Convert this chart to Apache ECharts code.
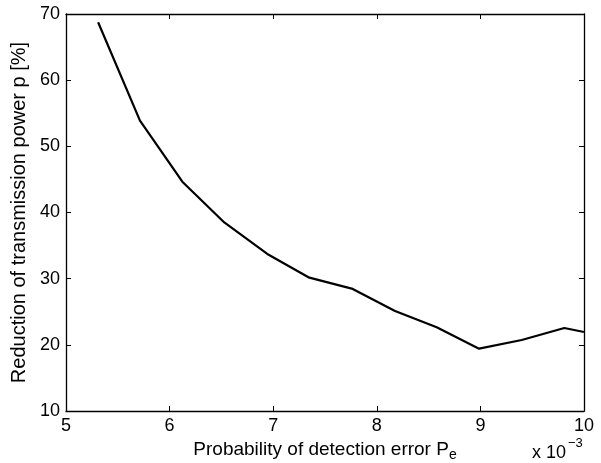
<!DOCTYPE html>
<html><head><meta charset="utf-8">
<script src="https://cdn.jsdelivr.net/npm/echarts@6/dist/echarts.min.js"></script>
<style>html,body{margin:0;padding:0;background:#fff}#c{width:601px;height:463px}</style>
</head><body><div id="c"></div>
<script>
const xValues = [5.31, 5.714, 6.123, 6.528, 6.943, 7.349, 7.758, 8.176, 8.578, 8.987, 9.399, 9.81, 10.0];
const yValues = [68.75, 53.88, 44.66, 38.5, 33.73, 30.15, 28.5, 25.1, 22.65, 19.42, 20.73, 22.55, 21.94];
const xTicks = [5, 6, 7, 8, 9, 10];
const yTicks = [10, 20, 30, 40, 50, 60, 70];

const font = 'Liberation Sans, Arial, Helvetica, sans-serif';
const chart = echarts.init(document.getElementById('c'));
const axisLine = {show: true, lineStyle: {color: '#000', width: 1.3}};
const tick = {show: true, inside: true, length: 5, lineStyle: {color: '#000', width: 1}};
chart.setOption({
  animation: false,
  grid: {left: 66, right: 17, top: 14, bottom: 52, containLabel: false, outerBoundsMode: 'none'},
  xAxis: [{
    type: 'value', min: 5, max: 10, interval: 1,
    axisLine, axisTick: tick, splitLine: {show: false},
    axisLabel: {color: '#000', fontSize: 18, fontFamily: font, margin: 6},
    name: '{a|Probability of detection error P}{s|e}',
    nameLocation: 'middle', nameGap: 27,
    nameTextStyle: {rich: {
      a: {fontSize: 19, fontFamily: font, color: '#000'},
      s: {fontSize: 14, fontFamily: font, color: '#000', verticalAlign: 'bottom', padding: [10, 0, 0, 0]}
    }}
  }, {
    type: 'value', min: 5, max: 10, interval: 1, position: 'top',
    axisLine, axisTick: tick, axisLabel: {show: false}, splitLine: {show: false}
  }],
  yAxis: [{
    type: 'value', min: 10, max: 70, interval: 10,
    axisLine, axisTick: tick, splitLine: {show: false},
    axisLabel: {color: '#000', fontSize: 18, fontFamily: font, margin: 6},
    name: 'Reduction of transmission power p [%]',
    nameLocation: 'middle', nameGap: 35,
    nameTextStyle: {fontSize: 20, fontFamily: font, color: '#000'}
  }, {
    type: 'value', min: 10, max: 70, interval: 10, position: 'right',
    axisLine, axisTick: tick, axisLabel: {show: false}, splitLine: {show: false}
  }],
  graphic: [{
    type: 'text', left: 532, top: 444,
    style: {text: 'x 10', fontSize: 18, fontFamily: font, fill: '#000'}
  }, {
    type: 'text', left: 568, top: 437,
    style: {text: '\u22123', fontSize: 13, fontFamily: font, fill: '#000'}
  }],
  series: [{
    type: 'line', data: xValues.map((x, i) => [x, yValues[i]]),
    showSymbol: false, symbol: 'none',
    lineStyle: {color: '#000', width: 2.2}, clip: true
  }]
});
</script></body></html>
